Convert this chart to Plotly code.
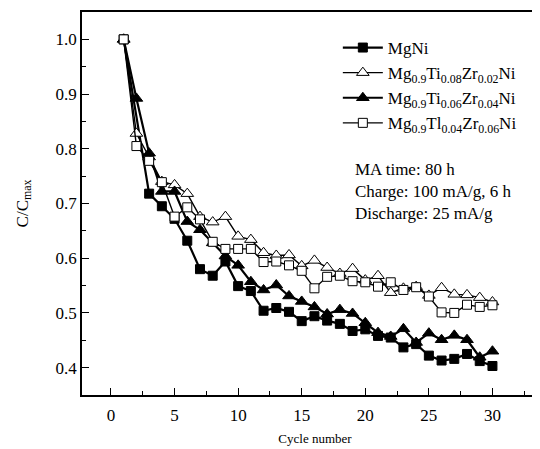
import plotly.graph_objects as go

FONT = "Liberation Serif"

cycles = list(range(1, 31))

# C/Cmax values (None = marker not visible)
mgni = [1.0, None, 0.718, 0.695, 0.672, 0.632, 0.580, 0.568, 0.594, 0.549,
        0.540, 0.504, 0.509, 0.502, 0.485, 0.494, 0.486, 0.480, 0.467, 0.470,
        0.458, 0.455, 0.437, 0.443, 0.422, 0.413, 0.416, 0.425, 0.412, 0.403]
ti08_zr02 = [1.0, 0.828, 0.785, 0.740, 0.734, 0.718, 0.676, 0.666, 0.676, 0.640,
             0.634, 0.610, 0.605, 0.606, 0.586, 0.596, 0.583, 0.572, 0.581, 0.560,
             0.568, 0.537, 0.545, 0.548, 0.532, 0.546, 0.534, 0.533, 0.528, 0.520]
ti06_zr04 = [1.0, 0.892, 0.792, 0.722, 0.722, 0.667, 0.652, 0.628, 0.604, 0.587,
             0.557, 0.542, 0.551, 0.531, 0.521, 0.511, 0.498, 0.506, 0.499, 0.482,
             0.464, 0.457, 0.471, 0.446, 0.463, 0.451, 0.459, 0.451, 0.419, 0.430]
ti04_zr06 = [1.0, 0.805, 0.778, 0.739, 0.676, 0.693, 0.671, 0.630, 0.617, 0.617,
             0.617, 0.593, 0.594, 0.587, 0.577, 0.545, 0.566, 0.568, 0.558, 0.556,
             0.548, 0.556, 0.542, 0.547, 0.530, 0.501, 0.500, 0.515, 0.511, 0.514]

series = [
    ("MgNi", mgni, "square", "black", 2.2),
    ("Mg<sub>0.9</sub>Ti<sub>0.08</sub>Zr<sub>0.02</sub>Ni", ti08_zr02, "triangle-up", "white", 1.4),
    ("Mg<sub>0.9</sub>Ti<sub>0.06</sub>Zr<sub>0.04</sub>Ni", ti06_zr04, "triangle-up", "black", 2.2),
    ("Mg<sub>0.9</sub>Tl<sub>0.04</sub>Zr<sub>0.06</sub>Ni", ti04_zr06, "square", "white", 1.4),
]

fig = go.Figure()
for name, vals, symbol, fill, lw in series:
    fig.add_trace(go.Scatter(
        x=cycles, y=vals, name=name, mode="lines+markers", connectgaps=True,
        line=dict(color="black", width=lw),
        marker=dict(symbol=symbol, size=9 if symbol == "square" else 11,
                    color=fill, line=dict(color="black", width=1)),
    ))

fig.add_annotation(
    x=0.582, y=0.62, xref="paper", yref="paper", xanchor="left", yanchor="top",
    text="MA time: 80 h<br>Charge: 100 mA/g, 6 h<br>Discharge: 25 mA/g",
    showarrow=False, align="left", font=dict(family=FONT, size=17, color="black"),
)

axis_common = dict(
    showline=True, linecolor="black", linewidth=1.5, mirror=True, automargin=False,
    ticks="inside", ticklen=7, tickcolor="black", showgrid=False, zeroline=False,
    tickfont=dict(family=FONT, size=17, color="black"),
)

# the page body adds 8px on the left and top, so margins are trimmed by that
fig.update_xaxes(
    range=[-2.28, 34.37], dtick=5, tick0=0, ticklabelstandoff=4,
    minor=dict(ticks="inside", ticklen=4, dtick=2.5, tickcolor="black"),
    title=dict(text="Cycle number", font=dict(family=FONT, size=13, color="black"), standoff=10),
    **axis_common,
)
fig.update_yaxes(
    range=[0.35, 1.05], dtick=0.1, tick0=0.4, tickformat=".1f",
    minor=dict(ticks="inside", ticklen=4, dtick=0.05, tickcolor="black"),
    title=dict(text="C/C<sub>max</sub>", font=dict(family=FONT, size=17, color="black"), standoff=23),
    **axis_common,
)

fig.update_layout(
    width=540, height=449,
    margin=dict(l=74, r=0, t=4, b=62),
    paper_bgcolor="white", plot_bgcolor="white",
    font=dict(family=FONT, color="black"),
    legend=dict(x=0.549, y=0.953, xanchor="left", yanchor="top",
                bgcolor="rgba(0,0,0,0)", font=dict(family=FONT, size=17),
                itemwidth=40),
)

fig.write_html("out.html")
